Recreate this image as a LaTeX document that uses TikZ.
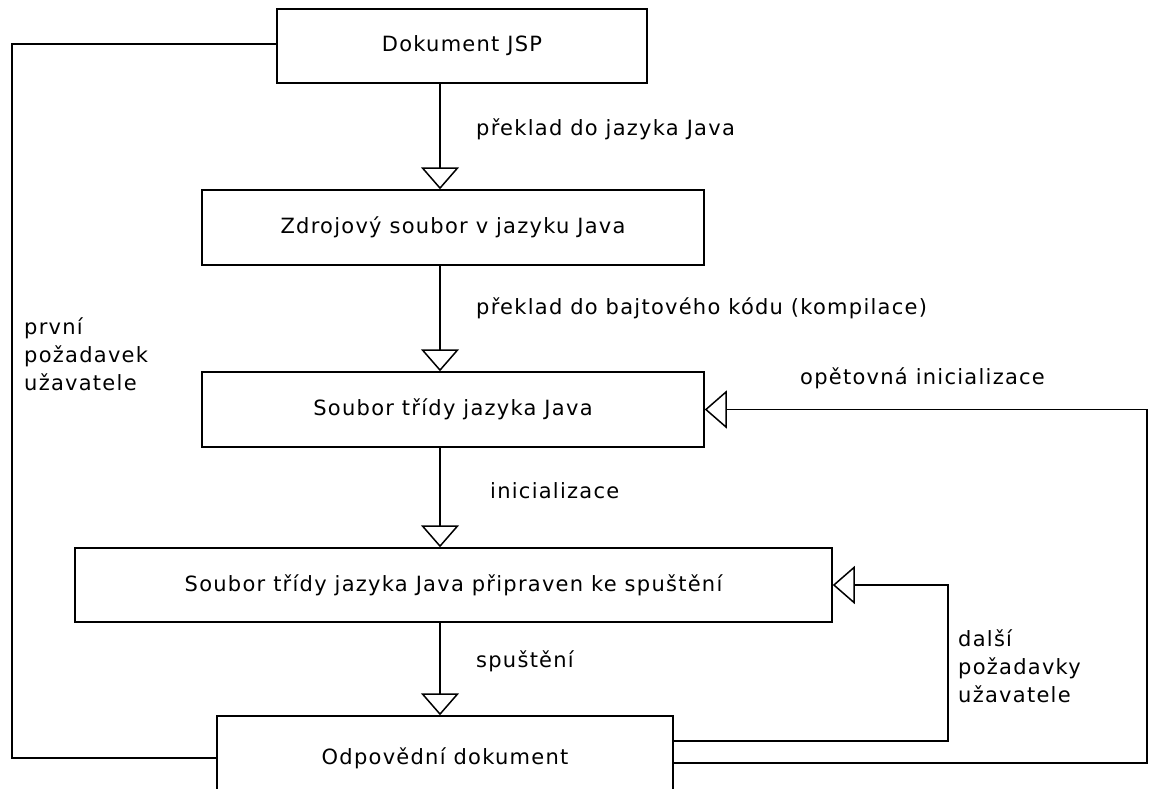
\documentclass[tikz,border=0pt]{standalone}
\usepackage{fontspec}
\newfontfamily\diafont[LetterSpace=6]{DejaVu Sans}
\usetikzlibrary{arrows.meta}
\begin{document}
\begin{tikzpicture}[x=1pt,y=-1pt,
  every node/.style={font=\diafont\fontsize{21}{28}\selectfont},
  box/.style={draw=black,line width=1.5pt,fill=white,inner sep=0pt},
  lbl/.style={inner sep=0pt,text height=0.75em,text depth=0.25em},
  multi/.style={inner sep=0pt,align=left},
  link/.style={draw=black,line width=1.5pt},
  flow/.style={link,-{Triangle[open,length=22pt,width=38pt,fill=white]}}]
\useasboundingbox (0,0) rectangle (1150,788);
\clip (0,0) rectangle (1150,788);
\fill[white] (0,0) rectangle (1150,788);

% process stages, top to bottom
\node[box,minimum width=370pt,minimum height=74pt] (b1) at (462,46) {Dokument JSP};
\node[box,minimum width=502pt,minimum height=75pt] (b2) at (453,227.5) {Zdrojový soubor v jazyku Java};
\node[box,minimum width=502pt,minimum height=75pt] (b3) at (453,409.5) {Soubor třídy jazyka Java};
\node[box,minimum width=757pt,minimum height=74pt] (b4) at (453.5,585) {Soubor třídy jazyka Java připraven ke spuštění};
\node[box,minimum width=456pt,minimum height=84pt] (b5) at (445,758) {Odpovědní dokument};

% turning points of the return paths
\coordinate (lx) at (12,0);
\coordinate (r1) at (948,0);
\coordinate (r2) at (1147,0);

% main sequence
\draw[flow] (b1.south -| 440,0) -- (b2.north -| 440,0);
\draw[flow] (b2.south -| 440,0) -- (b3.north -| 440,0);
\draw[flow] (b3.south -| 440,0) -- (b4.north -| 440,0);
\draw[flow] (b4.south -| 440,0) -- (b5.north -| 440,0);

% first request: JSP document straight to the response
\draw[link] ([yshift=2pt]b1.west) -| (lx |- b5.west) -- (b5.west);

% further requests and re-initialisation
\draw[flow] ([yshift=17pt]b5.east) -| (r1 |- b4.east) -- (b4.east);
\draw[flow] ([yshift=-5pt]b5.east) -| (r2 |- b3.east) -- (b3.east);

% labels
\node[lbl,anchor=west] (t1) at (476,133) {překlad do jazyka Java};
\node[lbl,anchor=west] (t2) at (476,312) {překlad do bajtového kódu (kompilace)};
\node[lbl,anchor=west] (t3) at (490,496) {inicializace};
\node[lbl,anchor=west] (t4) at (476,665) {spuštění};
\node[lbl,anchor=west] (t5) at (800,382) {opětovná inicializace};
\node[multi,anchor=west] (t6) at (24,354) {první\\požadavek\\užavatele};
\node[multi,anchor=west] (t7) at (958,666) {další\\požadavky\\užavatele};
\end{tikzpicture}
\end{document}
